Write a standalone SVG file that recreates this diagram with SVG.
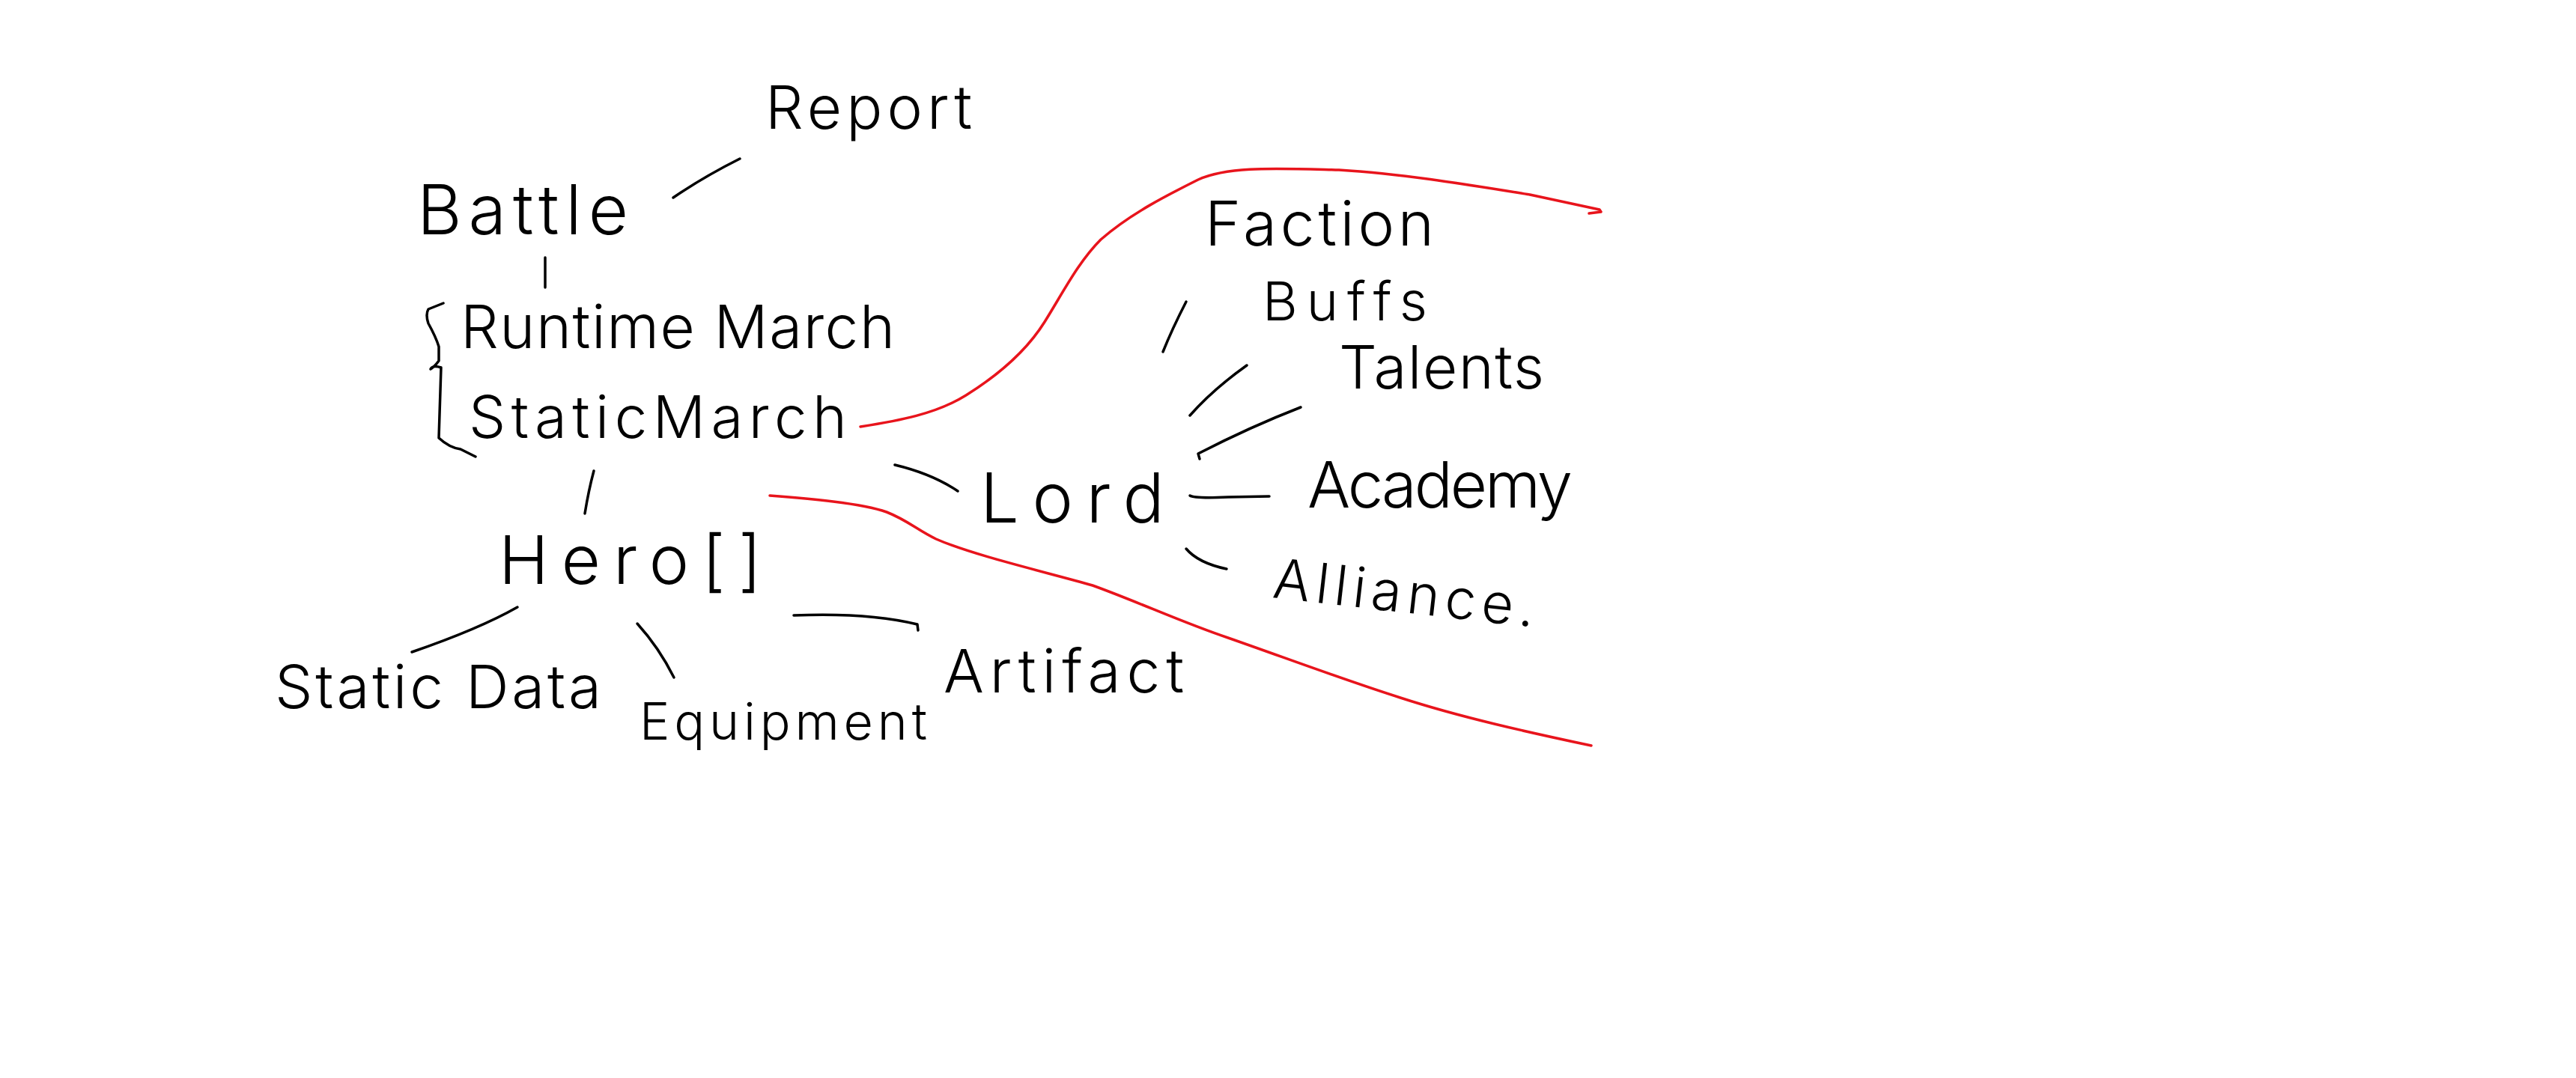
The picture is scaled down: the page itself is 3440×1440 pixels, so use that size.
<svg xmlns="http://www.w3.org/2000/svg" width="3440" height="1440" viewBox="0 0 3440 1440">
<style>
.bg{fill:#ffffff}
.lbl{font-family:"Inter","Liberation Sans",sans-serif;font-weight:300;fill:#000}
.ln{fill:none;stroke:#000;stroke-width:3.5;stroke-linecap:round;stroke-linejoin:round}
.red{fill:none;stroke:#e8141c;stroke-width:3.5;stroke-linecap:round;stroke-linejoin:round}
</style>
<rect class="bg" x="0" y="0" width="3440" height="1440"/>
<g id="connectors">
<path class="ln" d="M899,264 Q940,236 988,212"/>
<path class="ln" d="M728,344 L728,384"/>
<path class="ln" d="M793,629 Q786,655 781,686"/>
<path class="ln" d="M1195,621 Q1245,633 1279,656"/>
<path class="ln" d="M691,811 Q640,840 550,871"/>
<path class="ln" d="M851,833 Q880,865 900,905"/>
<path class="ln" d="M1060,822 Q1160,818 1225,834 L1226,842"/>
<path class="ln" d="M1584,403 Q1565,440 1553,470"/>
<path class="ln" d="M1665,488 Q1620,520 1589,555"/>
<path class="ln" d="M1737,544 Q1670,570 1600,606 L1602,613"/>
<path class="ln" d="M1589,662 Q1595,666 1640,664 L1695,663"/>
<path class="ln" d="M1584,733 Q1600,752 1638,760"/>
</g>
<g id="brace">
<path class="ln" d="M592,405 L572,413 Q568,420 572,432 Q582,450 586,463 L586,482 Q580,490 575,493 Q578,487 589,491 L586,585 Q600,598 615,600 L635,610"/>
</g>
<g id="red-boundary-upper">
<path class="red" d="M1149,570 C1200,562 1250,553 1290,528 C1330,503 1370,470 1395,430 C1420,390 1440,350 1470,320 C1510,285 1560,260 1600,240 C1640,222 1700,225 1788,227 C1870,232 1950,245 2043,260 L2136,280 L2138,283 L2122,285"/>
</g>
<g id="red-boundary-lower">
<path class="red" d="M1028,662 C1080,666 1150,672 1184,684 C1212,695 1225,708 1250,720 C1300,742 1400,765 1459,782 C1520,804 1580,832 1640,852 C1720,880 1800,910 1870,932 C1950,958 2040,978 2125,996"/>
</g>
<g id="node-battle"><text class="lbl" x="557" y="313" font-size="92" textLength="282" lengthAdjust="spacing">Battle</text></g>
<g id="node-report"><text class="lbl" x="1022" y="172" font-size="80" textLength="276" lengthAdjust="spacing">Report</text></g>
<g id="node-runtime-march"><text class="lbl" x="615" y="465" font-size="80" textLength="580" lengthAdjust="spacing">Runtime March</text></g>
<g id="node-static-march"><text class="lbl" x="626" y="585" font-size="78" textLength="505" lengthAdjust="spacing">StaticMarch</text></g>
<g id="node-hero"><text class="lbl" x="666" y="780" font-size="90" textLength="351" lengthAdjust="spacing">Hero[]</text></g>
<g id="node-static-data"><text class="lbl" x="367" y="946" font-size="80" textLength="436" lengthAdjust="spacing">Static Data</text></g>
<g id="node-equipment"><text class="lbl" x="854" y="988" font-size="68" textLength="384" lengthAdjust="spacing">Equipment</text></g>
<g id="node-artifact"><text class="lbl" x="1260" y="925" font-size="80" textLength="321" lengthAdjust="spacing">Artifact</text></g>
<g id="node-lord"><text class="lbl" x="1309" y="698" font-size="92" textLength="246" lengthAdjust="spacing">Lord</text></g>
<g id="node-faction"><text class="lbl" x="1609" y="328" font-size="82" textLength="306" lengthAdjust="spacing">Faction</text></g>
<g id="node-buffs"><text class="lbl" x="1686" y="428" font-size="72" textLength="220" lengthAdjust="spacing">Buffs</text></g>
<g id="node-talents"><text class="lbl" x="1788" y="519" font-size="80" textLength="274" lengthAdjust="spacing">Talents</text></g>
<g id="node-academy"><text class="lbl" x="1746" y="678" font-size="85" textLength="354" lengthAdjust="spacing">Academy</text></g>
<g id="node-alliance"><text class="lbl" x="1698" y="798" font-size="74" textLength="351" lengthAdjust="spacing" transform="rotate(6.5 1698 798)">Alliance.</text></g>
</svg>
